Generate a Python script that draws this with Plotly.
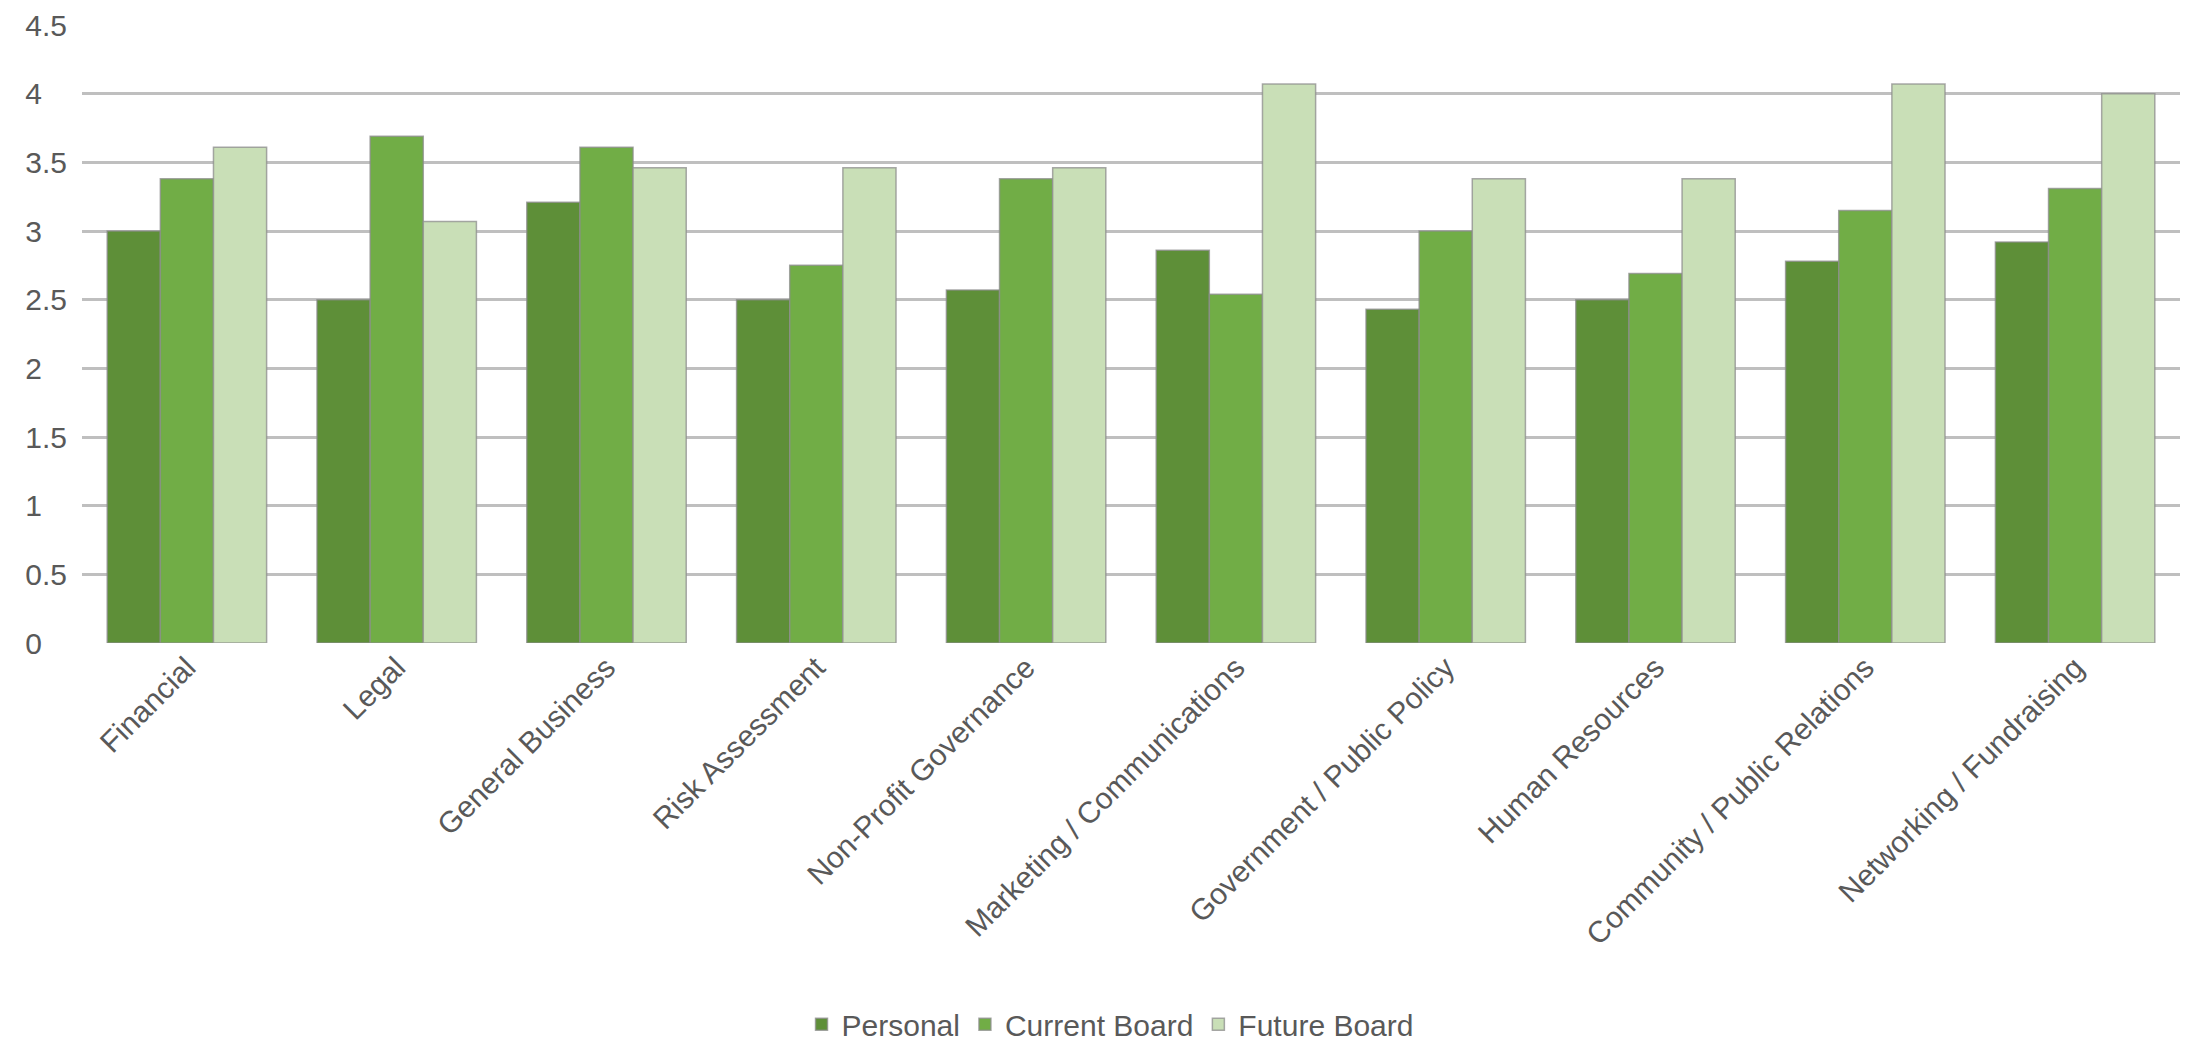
import plotly.graph_objects as go

categories = ["Financial", "Legal", "General Business", "Risk Assessment",
              "Non-Profit Governance", "Marketing / Communications",
              "Government / Public Policy", "Human Resources",
              "Community / Public Relations", "Networking / Fundraising"]
personal = [3.0, 2.5, 3.21, 2.5, 2.57, 2.86, 2.43, 2.5, 2.78, 2.92]
current_board = [3.38, 3.69, 3.61, 2.75, 3.38, 2.54, 3.0, 2.69, 3.15, 3.31]
future_board = [3.61, 3.07, 3.46, 3.46, 3.46, 4.07, 3.38, 3.38, 4.07, 4.0]
y_ticks = [0, 0.5, 1, 1.5, 2, 2.5, 3, 3.5, 4, 4.5]
y_tick_labels = ["0", "0.5", "1", "1.5", "2", "2.5", "3", "3.5", "4", "4.5"]

series = [("Personal", personal, "#5e8f38"),
          ("Current Board", current_board, "#71ad46"),
          ("Future Board", future_board, "#c9dfb7")]

FONT = "Liberation Sans, Arial, sans-serif"
TXT = "#595959"

# left-align the y tick labels (as in the original) by padding short labels
NBSP = "\u00a0"
y_tick_text = [t if "." in t else t + NBSP * 3 for t in y_tick_labels]

fig = go.Figure()
for name, vals, col in series:
    fig.add_trace(go.Bar(
        x=categories, y=vals, name=name,
        marker=dict(color=col, line=dict(color="rgba(140,140,140,0.75)", width=1.5)),
    ))

W, H = 2190, 1041
ml, mr, mt, mb = 82, 10, 25, 398

fig.update_layout(
    width=W, height=H,
    margin=dict(l=ml, r=mr, t=mt, b=mb, autoexpand=False),
    paper_bgcolor="white", plot_bgcolor="white",
    barmode="group", bargap=0.24, bargroupgap=0,
    font=dict(family=FONT, size=30, color=TXT),
    showlegend=True,
    legend=dict(orientation="h", x=0.49, xanchor="center",
                yref="container", y=0.016, yanchor="middle",
                font=dict(family=FONT, size=30, color=TXT), itemwidth=30,
                traceorder="normal"),
    xaxis=dict(tickangle=-45, showgrid=False, showline=False, automargin=False,
               ticks="", tickfont=dict(family=FONT, size=30, color=TXT)),
    yaxis=dict(range=[0, 4.5], tickvals=y_ticks, ticktext=y_tick_text,
               automargin=False, ticklabelstandoff=14,
               showgrid=True, gridcolor="#bfbfbf", gridwidth=3,
               zeroline=False, showline=False, ticks="",
               tickfont=dict(family=FONT, size=30, color=TXT)),
)

fig.write_html("out.html")
